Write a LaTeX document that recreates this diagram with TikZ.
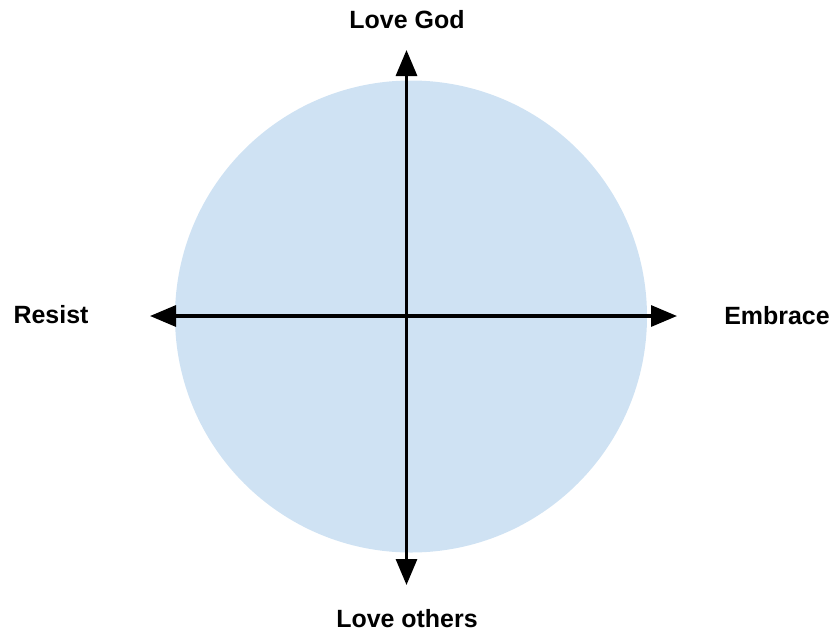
\documentclass[tikz,border=0pt]{standalone}
\usepackage{fontspec}
\setmainfont{Liberation Sans}
\usetikzlibrary{arrows.meta, positioning}
\definecolor{discblue}{RGB}{207,226,243}

\begin{document}
\begin{tikzpicture}[
  label/.style={font=\fontsize{7.1}{8}\selectfont\bfseries, inner sep=0pt},
  axis/.style={{Triangle[length=2.6mm, width=2.1mm]}-{Triangle[length=2.6mm, width=2.1mm]}, line width=0.9pt}
]
  \useasboundingbox (0,0) rectangle (8.34,6.34);

  % Disc behind the axes
  \fill[discblue] (4.11,3.175) circle (2.36);

  % Axis ends
  \coordinate (top) at (4.065,5.84);
  \coordinate (bottom) at (4.065,0.49);
  \coordinate (left) at (1.50,3.18);
  \coordinate (right) at (6.77,3.18);

  % Labels
  \node[label] (god) at (4.07,6.14) {Love God};
  \node[label] (others) at (4.07,0.15) {Love others};
  \node[label] (resist) at (0.51,3.19) {Resist};
  \node[label] (embrace) at (7.77,3.18) {Embrace};

  % Axes
  \draw[axis] (bottom) -- (top);
  \draw[axis] (left) -- (right);
\end{tikzpicture}
\end{document}
